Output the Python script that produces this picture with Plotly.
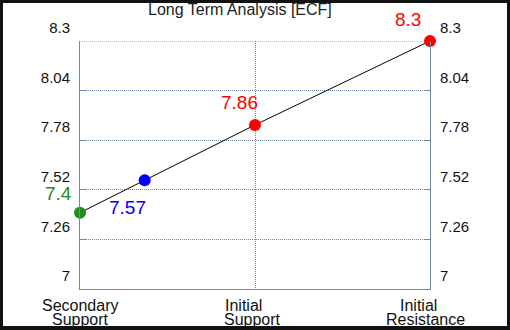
import plotly.graph_objects as go

cat_line1 = ["Secondary", "Initial", "Initial"]
cat_line2 = ["Support", "Support", "Resistance"]
line_values = [7.4, 7.86, 8.3]
point_labels = ["7.4", "7.57", "7.86", "8.3"]
point_values = [7.4, 7.57, 7.86, 8.3]
point_colors = ["#228B22", "#0000FF", "#FF0000", "#FF0000"]
y_ticks = [7, 7.26, 7.52, 7.78, 8.04, 8.3]
title_text = "Long Term Analysis [ECF]"

cat_pos = [0, 1, 2]
# blue point sits on the line between the first two levels
blue_x = (point_values[1] - line_values[0]) / (line_values[1] - line_values[0])
point_x = [0, blue_x, 1, 2]

FONT = "Liberation Sans, Arial"
axis_col = "#7088a8"
DOT = "1px,1px"
fig = go.Figure()
fig.add_trace(go.Scatter(x=cat_pos, y=line_values, mode="lines", cliponaxis=False,
                         line=dict(color="black", width=1), hoverinfo="skip", showlegend=False))
fig.add_trace(go.Scatter(x=point_x, y=point_values, mode="markers", cliponaxis=False,
                         marker=dict(color=point_colors, size=12), showlegend=False))
fig.add_trace(go.Scatter(x=cat_pos, y=line_values, yaxis="y2", mode="markers",
                         marker=dict(opacity=0), hoverinfo="skip", showlegend=False))

shifts = [(-22, 19), (-17, -27), (-16, 22), (-22, 22)]
for xv, yv, t, c, (dx, dy) in zip(point_x, point_values, point_labels, point_colors, shifts):
    fig.add_annotation(x=xv, y=yv, text=t, showarrow=False, xshift=dx, yshift=dy,
                       font=dict(color=c, size=19, family=FONT))

# category labels (two tight lines each)
l1_shift = [0, -12, -12]
l2_shift = [0, -3, -5]
for xv, a, b, s1, s2 in zip(cat_pos, cat_line1, cat_line2, l1_shift, l2_shift):
    fig.add_annotation(x=xv, xref="x", yref="paper", y=-16 / 248, text=a, showarrow=False,
                       xanchor="center", yanchor="middle", xshift=s1, borderpad=0,
                       font=dict(size=16, color="#111", family=FONT))
    fig.add_annotation(x=xv, xref="x", yref="paper", y=-30 / 248, text=b, showarrow=False,
                       xanchor="center", yanchor="middle", xshift=s2, borderpad=0,
                       font=dict(size=16, color="#111", family=FONT))

fig.add_annotation(xref="paper", yref="paper", x=(240 - 80) / 350, y=1 + (41 - 9) / 248,
                   text=title_text, showarrow=False, xanchor="center", yanchor="middle",
                   font=dict(size=16, color="#222", family=FONT))

yax = dict(range=[7, 8.3], tickvals=y_ticks, ticktext=[str(v) for v in y_ticks],
           showgrid=True, gridcolor=axis_col, griddash=DOT, gridwidth=1,
           showline=True, linecolor=axis_col, linewidth=1,
           ticks="inside", ticklen=6, tickcolor=axis_col,
           tickfont=dict(size=15, color="#111", family=FONT),
           ticklabelshift=-13, ticklabelstandoff=6, zeroline=False, fixedrange=True,
           automargin=False)

fig.update_layout(
    width=510, height=330,
    margin=dict(l=80, r=80, t=41, b=41),
    paper_bgcolor="white", plot_bgcolor="white",
    showlegend=False,
    xaxis=dict(range=[0, 2], tickvals=cat_pos, showticklabels=False,
               showgrid=True, gridcolor=axis_col, griddash=DOT,
               showline=True, linecolor=axis_col, linewidth=1, ticks="",
               zeroline=False, fixedrange=True, automargin=False),
    yaxis=yax,
    yaxis2=dict(yax, overlaying="y", side="right", anchor="x", showgrid=False),
    shapes=[
        dict(type="line", xref="paper", yref="y", x0=0, x1=1, y0=y_ticks[-1], y1=y_ticks[-1],
             line=dict(color=axis_col, width=1, dash=DOT), layer="below"),
        dict(type="rect", xref="paper", yref="paper",
             x0=-80 / 350, x1=1 + 80 / 350, y0=-40 / 248, y1=1 + 41 / 248,
             line=dict(color="#111", width=6), fillcolor="rgba(0,0,0,0)", layer="above"),
    ],
)
fig.write_html("out.html", config={"displayModeBar": False},
               post_script="document.body.style.margin='0';")
